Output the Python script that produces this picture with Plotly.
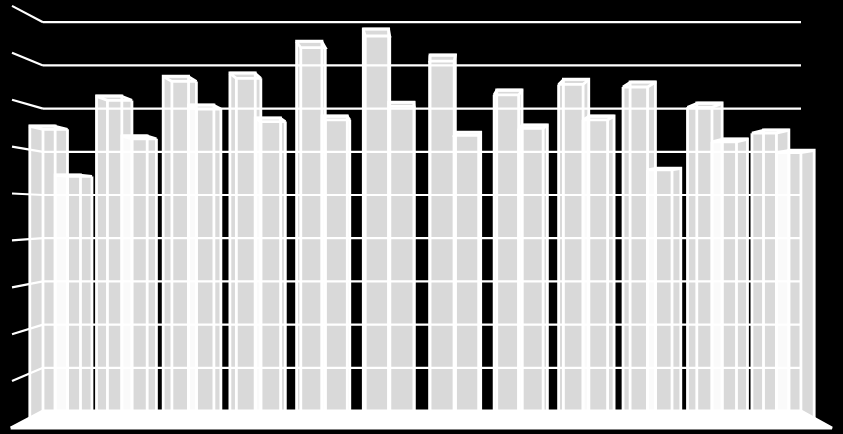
import plotly.graph_objects as go

# data (value axis has ten levels, 0 to 9, and no labels)
categories = list(range(12))
series_a = [6.52, 7.19, 7.63, 7.70, 8.41, 8.68, 8.10, 7.32, 7.56, 7.50, 7.03, 6.43]
series_b = [5.43, 6.30, 6.99, 6.70, 6.74, 7.05, 6.38, 6.54, 6.74, 5.58, 6.23, 5.98]
grid_levels = [1, 2, 3, 4, 5, 6, 7, 8, 9]

# ---- view set-up: the plot axes are the plane of the bar fronts ----
W, H = 843, 434
BAR_WIDTH = 0.38          # in category units
FRONT_DEPTH = 0.55
FACE = "rgba(255,255,255,0.85)"
LINE = "#ffffff"
LW = 2.8
GRID_LW = 2.2


def px_x(c, d):
    span = 820 - 62 * d
    return 12 + 31 * d + (c * 64.45 / 758) * span


def px_y(v, d):
    return 428 - 17 * d - v * (46.9 - 3.7 * d)


def to_axis_x(px):
    return (px - 29.8) / 66.7


def to_axis_y(py):
    return (418.65 - py) / 44.9


def P(c, v, d):
    """Project a category/value/depth point into the axis coordinates."""
    return to_axis_x(px_x(c, d)), to_axis_y(px_y(v, d))


LAST = (801 - 43) / 64.45  # right end of the category span

fig = go.Figure()

# front faces: real bars on the axes
for series, off in ((series_a, 0.0), (series_b, BAR_WIDTH)):
    fig.add_trace(go.Bar(
        x=categories, y=series, width=BAR_WIDTH, offset=off,
        marker=dict(color=FACE, line=dict(color=LINE, width=LW)),
    ))


def poly(points, fill=None, line=True):
    xs = [p[0] for p in points] + [points[0][0]]
    ys = [p[1] for p in points] + [points[0][1]]
    fig.add_trace(go.Scatter(
        x=xs, y=ys, mode="lines" if line else "none",
        fill="toself" if fill else "none", fillcolor=fill,
        line=dict(color=LINE, width=LW), hoverinfo="skip",
    ))


def seg(a, b, width=LW):
    fig.add_trace(go.Scatter(
        x=[a[0], b[0]], y=[a[1], b[1]], mode="lines",
        line=dict(color=LINE, width=width), hoverinfo="skip",
    ))


# walls: grid lines on the back wall and their returns on the left wall
for lv in grid_levels:
    seg(P(0, lv, 1), P(LAST, lv, 1), GRID_LW)
    seg(P(0, lv, 0), P(0, lv, 1), GRID_LW)

# side faces, outline of the top faces and the far edges of each box
for series, off in ((series_a, 0.0), (series_b, BAR_WIDTH)):
    for c, v in zip(categories, series):
        l, r = c + off, c + off + BAR_WIDTH
        fl0, fr0 = P(l, 0, FRONT_DEPTH), P(r, 0, FRONT_DEPTH)
        fl1, fr1 = P(l, v, FRONT_DEPTH), P(r, v, FRONT_DEPTH)
        bl0, br0 = P(l, 0, 1), P(r, 0, 1)
        bl1, br1 = P(l, v, 1), P(r, v, 1)
        if br1[0] > fr1[0]:
            poly([fr0, fr1, br1, br0], fill=FACE, line=False)
        if bl1[0] < fl1[0]:
            poly([fl0, fl1, bl1, bl0], fill=FACE, line=False)
        poly([fl1, fr1, br1, bl1])
        seg(bl0, bl1)
        seg(br0, br1)

# floor, over the feet of the bars
poly([P(-0.02, 0, 0), P(0, 0, 1), P(LAST, 0, 1), P(LAST, 0, 0)], fill=LINE)

fig.update_layout(
    width=W, height=H, margin=dict(l=0, r=0, t=0, b=0),
    paper_bgcolor="#000000", plot_bgcolor="#000000",
    showlegend=False, barmode="overlay",
    xaxis=dict(visible=False, range=[to_axis_x(0), to_axis_x(W)]),
    yaxis=dict(visible=False, range=[to_axis_y(H), to_axis_y(0)]),
)

fig.write_html(
    "out.html",
    config={"displayModeBar": False},
    post_script="document.body.style.margin='0';document.body.style.background='#000';document.body.style.overflow='hidden';",
)
